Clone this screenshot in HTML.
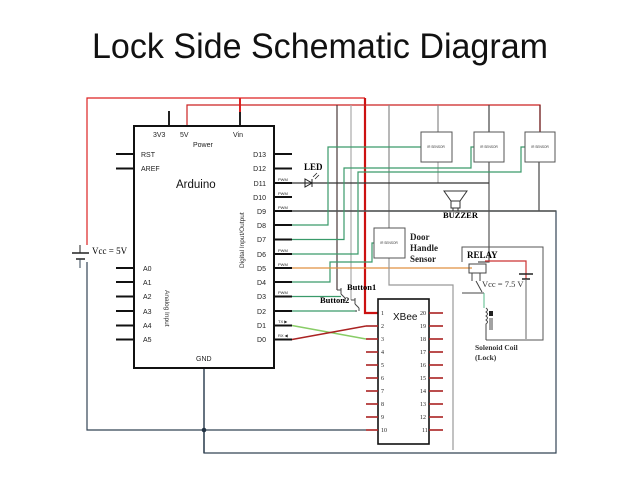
<!DOCTYPE html>
<html><head><meta charset="utf-8"><style>
html,body{margin:0;padding:0;background:#fff;width:638px;height:479px;overflow:hidden}
svg text{font-family:"Liberation Sans",sans-serif}
svg .s, svg .s text{font-family:"Liberation Serif",serif;font-weight:bold}
svg .r, svg .r text{font-family:"Liberation Serif",serif;font-weight:normal}
</style></head><body>
<svg width="638" height="479" viewBox="0 0 638 479" xmlns="http://www.w3.org/2000/svg">
<text x="320" y="58" font-size="35" text-anchor="middle" textLength="456" lengthAdjust="spacingAndGlyphs" fill="#111">Lock Side Schematic Diagram</text>
<g fill="none" stroke-width="1.2">
<polyline points="87,245 87,98 365,98" stroke="#d22"/>
<polyline points="365,98 365,313 378,313" stroke="#c11" stroke-width="2.2"/>
<line x1="240" y1="98" x2="240" y2="126" stroke="#222" stroke-width="2"/>
<line x1="240" y1="98" x2="240" y2="112" stroke="#d22" stroke-width="2"/>
<polyline points="187,126 187,105 540,105 540,132" stroke="#c22"/>
<line x1="169" y1="111" x2="169" y2="126" stroke="#222" stroke-width="2"/>
<line x1="337" y1="105" x2="337" y2="290" stroke="#4a3a3a"/>
<line x1="351" y1="105" x2="351" y2="300" stroke="#aaa"/>
<line x1="389" y1="105" x2="389" y2="228" stroke="#888"/>
<line x1="438" y1="105" x2="438" y2="132" stroke="#888"/>
<line x1="489" y1="105" x2="489" y2="132" stroke="#444"/>
<line x1="540" y1="105" x2="540" y2="132" stroke="#622"/>
<line x1="438" y1="162" x2="438" y2="183" stroke="#aaa"/>
<polyline points="489,162 489,262 478,262" stroke="#555"/>
<line x1="539" y1="162" x2="539" y2="211" stroke="#444"/>
<line x1="292" y1="183" x2="489" y2="183" stroke="#333"/>
<polyline points="292,211 556,211 556,453 204,453 204,430" stroke="#345"/>
<line x1="292" y1="211" x2="556" y2="211" stroke="#555" stroke-width="1.6"/>
<polyline points="292,225 328,225 328,147 421,147" stroke="#3a9a6a"/>
<polyline points="292,239.5 344,239.5 344,168 471,168 471,147 474,147" stroke="#3a9a6a"/>
<polyline points="292,254 358,254 358,172 521,172 521,147 525,147" stroke="#3a9a6a"/>
<polyline points="292,282 330,282 330,262 372,262 372,243 374,243" stroke="#3a9a6a"/>
<polyline points="292,296.5 341,296.5" stroke="#3a9a6a"/>
<polyline points="292,311 357,311" stroke="#3a9a6a"/>
<line x1="292" y1="268" x2="472" y2="268" stroke="#e09040"/>
<polyline points="389,258 389,285 453,285 453,450" stroke="#999"/>
<line x1="292" y1="325.5" x2="366" y2="339" stroke="#8c6" stroke-width="1.5"/>
<line x1="292" y1="339.5" x2="366" y2="326" stroke="#a22" stroke-width="1.5"/>
<polyline points="87,262 87,430 366,430" stroke="#345"/>
<line x1="204" y1="368" x2="204" y2="453" stroke="#345" stroke-width="1.5"/>
</g>
<circle cx="204" cy="430" r="2.3" fill="#234"/>
<g stroke="#222" stroke-width="1.5"><line x1="72" y1="253" x2="89" y2="253"/><line x1="76" y1="259" x2="85" y2="259"/></g>
<line x1="80" y1="245" x2="80" y2="253" stroke="#222"/><line x1="80" y1="259" x2="80" y2="268" stroke="#345"/>
<text x="92" y="254" font-size="9" class="r">Vcc = 5V</text>
<rect x="134" y="126" width="140" height="242" fill="#fff" stroke="#111" stroke-width="2"/>
<g font-size="7" fill="#222">
<text x="153" y="137">3V3</text><text x="180" y="137">5V</text><text x="233" y="137">Vin</text>
<text x="193" y="147">Power</text>
<text x="141" y="157">RST</text><text x="141" y="171">AREF</text>
<text x="143" y="271">A0</text><text x="143" y="285">A1</text><text x="143" y="299">A2</text><text x="143" y="314">A3</text><text x="143" y="328">A4</text><text x="143" y="342">A5</text>
<text x="196" y="361">GND</text>
</g>
<text x="176" y="188" font-size="11.5" fill="#111">Arduino</text>
<text font-size="6.5" fill="#333" transform="translate(244,268) rotate(-90)">Digital Input/Output</text>
<text font-size="6.5" fill="#333" transform="translate(165,290) rotate(90)">Analog Input</text>
<g font-size="7" fill="#222" text-anchor="end">
<text x="266" y="157">D13</text><text x="266" y="171">D12</text><text x="266" y="186">D11</text><text x="266" y="200">D10</text><text x="266" y="214">D9</text><text x="266" y="228">D8</text><text x="266" y="242">D7</text><text x="266" y="257">D6</text><text x="266" y="271">D5</text><text x="266" y="285">D4</text><text x="266" y="299">D3</text><text x="266" y="314">D2</text><text x="266" y="328">D1</text><text x="266" y="342">D0</text>
</g>
<g font-size="4" fill="#222"><text x="278" y="181">PWM</text><text x="278" y="195">PWM</text><text x="278" y="209">PWM</text><text x="278" y="252">PWM</text><text x="278" y="266">PWM</text><text x="278" y="294">PWM</text><text x="278" y="323">TX ▶</text><text x="278" y="337">RX ◀</text></g>
<g stroke="#111" stroke-width="2">
<line x1="274" y1="154" x2="292" y2="154"/><line x1="274" y1="168.5" x2="292" y2="168.5"/><line x1="274" y1="183" x2="292" y2="183"/><line x1="274" y1="197" x2="292" y2="197"/><line x1="274" y1="211" x2="292" y2="211"/><line x1="274" y1="225" x2="292" y2="225"/><line x1="274" y1="239.5" x2="292" y2="239.5"/><line x1="274" y1="254" x2="292" y2="254"/><line x1="274" y1="268" x2="292" y2="268"/><line x1="274" y1="282" x2="292" y2="282"/><line x1="274" y1="296.5" x2="292" y2="296.5"/><line x1="274" y1="311" x2="292" y2="311"/><line x1="274" y1="325.5" x2="292" y2="325.5"/><line x1="274" y1="339.5" x2="292" y2="339.5"/>
<line x1="116" y1="154" x2="134" y2="154"/><line x1="116" y1="168.5" x2="134" y2="168.5"/><line x1="116" y1="268" x2="134" y2="268"/><line x1="116" y1="282" x2="134" y2="282"/><line x1="116" y1="296.5" x2="134" y2="296.5"/><line x1="116" y1="311" x2="134" y2="311"/><line x1="116" y1="325.5" x2="134" y2="325.5"/><line x1="116" y1="339.5" x2="134" y2="339.5"/>
</g>
<path d="M305,179 L305,187 L312,183 Z M312,179 L312,187" fill="none" stroke="#222"/>
<path d="M313,177 l4,-4 M315,179 l4,-4" stroke="#222" stroke-width="0.8"/>
<text x="304" y="170" font-size="9" class="s">LED</text>
<g fill="#fff" stroke="#555"><rect x="421" y="132" width="31" height="30"/><rect x="474" y="132" width="30" height="30"/><rect x="525" y="132" width="30" height="30"/><rect x="374" y="228" width="31" height="30"/></g>
<g font-size="3.2" fill="#333" text-anchor="middle"><text x="436" y="148">IR SENSOR</text><text x="489" y="148">IR SENSOR</text><text x="540" y="148">IR SENSOR</text><text x="389" y="244">IR SENSOR</text></g>
<g font-size="9" class="s" fill="#222"><text x="410" y="240">Door</text><text x="410" y="251">Handle</text><text x="410" y="262">Sensor</text></g>
<path d="M444,191 L467,191 L460,201 L451,201 Z" fill="#fff" stroke="#333"/>
<rect x="451" y="201" width="9" height="7" fill="#fff" stroke="#333"/>
<line x1="453" y1="208" x2="453" y2="211" stroke="#333"/><line x1="458" y1="208" x2="458" y2="211" stroke="#333"/>
<text x="443" y="218" font-size="8.5" class="s">BUZZER</text>
<path d="M337,290 l4,0 M341,288 l0,6 M341,294 l4,4 M345,298 l0,3" stroke="#444" fill="none"/>
<path d="M351,300 l4,0 M355,298 l0,6 M355,304 l4,4 M359,308 l0,3 M357,311 l-2,0" stroke="#444" fill="none"/>
<text x="347" y="290" font-size="8.5" class="s">Button1</text>
<text x="320" y="303" font-size="8.5" class="s">Button2</text>
<polyline points="462,262 462,247 543,247 543,340 486,340" fill="none" stroke="#555"/>
<polyline points="485,261 526,261 526,280" fill="none" stroke="#c33" stroke-width="1.2"/>
<line x1="519" y1="274" x2="533" y2="274" stroke="#222" stroke-width="1.5"/><line x1="522" y1="279" x2="530" y2="279" stroke="#222" stroke-width="1.5"/>
<line x1="526" y1="279" x2="526" y2="339" stroke="#666"/>
<text x="467" y="258" font-size="9" class="s">RELAY</text>
<rect x="469" y="264" width="17" height="9" fill="none" stroke="#444"/>
<path d="M472,273 l0,8 M480,273 l0,8 M476,281 l6,11 M462,293 L484,293" stroke="#444" fill="none"/>
<line x1="484" y1="293" x2="484" y2="308" stroke="#5b8"/>
<path d="M486,308 q3,2 0,4 q3,2 0,4 q3,2 0,4 q3,2 0,4 l0,16" stroke="#444" fill="none"/>
<rect x="489" y="311" width="4" height="5" fill="#222"/><line x1="490" y1="318" x2="490" y2="330" stroke="#444"/><line x1="492" y1="318" x2="492" y2="330" stroke="#444"/>
<text x="482" y="287" font-size="8.5" class="r" fill="#333">Vcc = 7.5 V</text>
<text x="475" y="350" font-size="7.5" class="s" fill="#333">Solenoid Coil</text>
<text x="475" y="360" font-size="7.5" class="s" fill="#333">(Lock)</text>
<rect x="378" y="299" width="51" height="145" fill="#fff" stroke="#111" stroke-width="1.6"/>
<text x="393" y="320" font-size="10" fill="#111">XBee</text>
<g stroke="#a22" stroke-width="1.6">
<line x1="366" y1="326" x2="378" y2="326"/><line x1="366" y1="339" x2="378" y2="339"/><line x1="366" y1="352" x2="378" y2="352"/><line x1="366" y1="365" x2="378" y2="365"/><line x1="366" y1="378" x2="378" y2="378"/><line x1="366" y1="391" x2="378" y2="391"/><line x1="366" y1="404" x2="378" y2="404"/><line x1="366" y1="417" x2="378" y2="417"/><line x1="366" y1="430" x2="378" y2="430"/>
<line x1="429" y1="313" x2="443" y2="313"/><line x1="429" y1="326" x2="443" y2="326"/><line x1="429" y1="339" x2="443" y2="339"/><line x1="429" y1="352" x2="443" y2="352"/><line x1="429" y1="365" x2="443" y2="365"/><line x1="429" y1="378" x2="443" y2="378"/><line x1="429" y1="391" x2="443" y2="391"/><line x1="429" y1="404" x2="443" y2="404"/><line x1="429" y1="417" x2="443" y2="417"/><line x1="429" y1="430" x2="443" y2="430"/>
</g>
<g font-size="6" class="r" fill="#222">
<text x="381" y="315">1</text><text x="381" y="328">2</text><text x="381" y="341">3</text><text x="381" y="354">4</text><text x="381" y="367">5</text><text x="381" y="380">6</text><text x="381" y="393">7</text><text x="381" y="406">8</text><text x="381" y="419">9</text><text x="381" y="432">10</text>
<text x="420" y="315">20</text><text x="420" y="328">19</text><text x="420" y="341">18</text><text x="420" y="354">17</text><text x="420" y="367">16</text><text x="420" y="380">15</text><text x="420" y="393">14</text><text x="420" y="406">13</text><text x="420" y="419">12</text><text x="422" y="432">11</text>
</g>
</svg>
</body></html>
